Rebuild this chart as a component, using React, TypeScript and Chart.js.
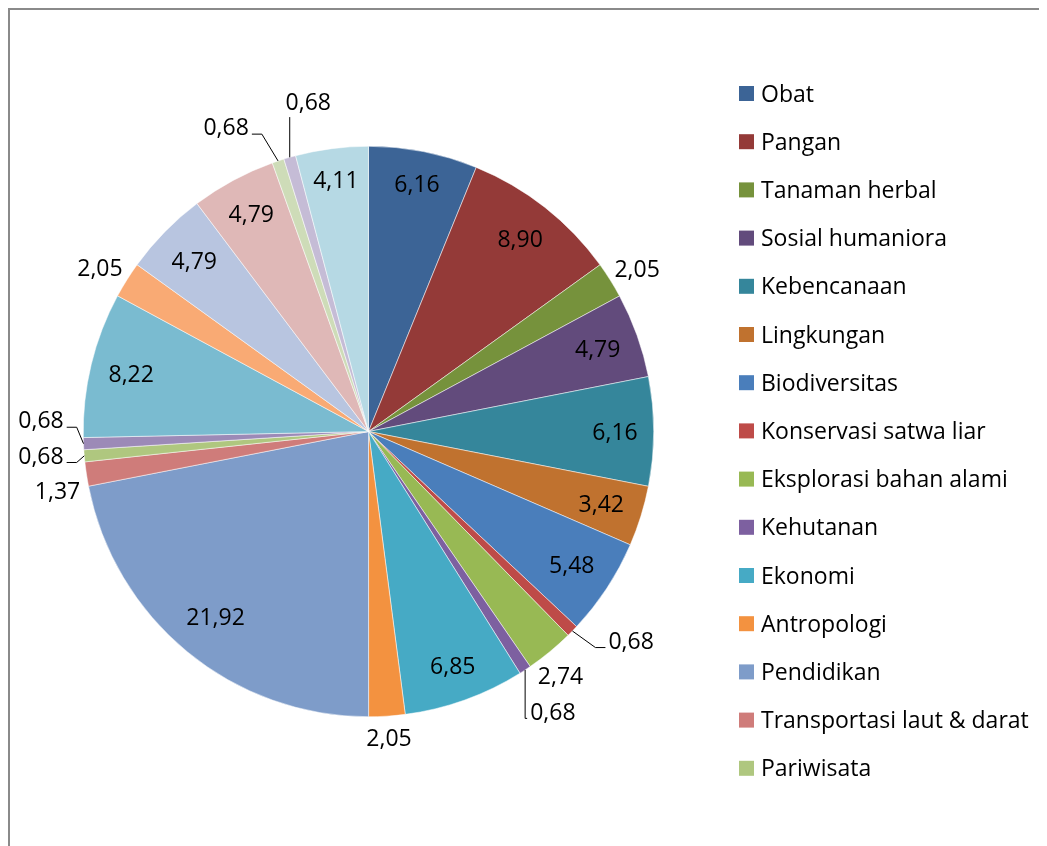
import React, { useEffect, useRef } from 'react';
import { Chart, registerables } from 'chart.js';

Chart.register(...registerables);

// ---- data ----
const categories = [
  'Obat',
  'Pangan',
  'Tanaman herbal',
  'Sosial humaniora',
  'Kebencanaan',
  'Lingkungan',
  'Biodiversitas',
  'Konservasi satwa liar',
  'Eksplorasi bahan alami',
  'Kehutanan',
  'Ekonomi',
  'Antropologi',
  'Pendidikan',
  'Transportasi laut & darat',
  'Pariwisata',
];

const values = [
  6.16, 8.9, 2.05, 4.79, 6.16, 3.42, 5.48, 0.68, 2.74, 0.68, 6.85, 2.05, 21.92, 1.37, 0.68,
  0.68, 8.22, 2.05, 4.79, 4.79, 0.68, 0.68, 4.11,
];

const colors = [
  '#3C6496', '#943A38', '#76923C', '#624B7C', '#35869B', '#C0722F',
  '#4A7EBB', '#BE4B48', '#98B954', '#7D60A0', '#46AAC5', '#F39240',
  '#7E9CC9', '#CF7C7A', '#AFC77F', '#9C8AB7', '#7ABBD0', '#F9AA74',
  '#B8C5E0', '#DFB8B7', '#CEDCB8', '#C5BCD6', '#B6D9E4',
];

// ---- styling ----
const FONT = '"Open Sans", Lato, sans-serif';
const LABEL_SIZE = 23;
const LEGEND_SIZE = 23;
const CANVAS_W = 1037;
const CANVAS_H = 836;

const fmt = (v: number) => v.toFixed(2).replace('.', ',');

const labelPlugin = {
  id: 'excelPieLabels',
  afterDatasetsDraw(chart: any) {
    const ctx: CanvasRenderingContext2D = chart.ctx;
    const meta = chart.getDatasetMeta(0);
    const arcs = meta.data as any[];
    ctx.save();
    ctx.font = `${LABEL_SIZE}px ${FONT}`;
    ctx.fillStyle = '#000';
    ctx.textAlign = 'center';
    ctx.textBaseline = 'alphabetic';
    const H = 26;
    const BASE = 8.2;
    const INSIDE_MARGIN = 16;
    const outside: any[] = [];
    arcs.forEach((arc, i) => {
      const p = arc.getProps(['x', 'y', 'startAngle', 'endAngle', 'outerRadius'], true);
      const text = fmt(values[i]);
      const w = ctx.measureText(text).width;
      const mid = (p.startAngle + p.endAngle) / 2;
      const ux = Math.cos(mid);
      const uy = Math.sin(mid);
      if (values[i] >= 3) {
        const proj = (w / 2) * Math.abs(ux) + (H / 2) * Math.abs(uy);
        const d = p.outerRadius - INSIDE_MARGIN - proj;
        ctx.fillText(text, p.x + d * ux, p.y + d * uy + BASE);
      } else {
        const span = p.endAngle - p.startAngle;
        const tiny = span < (3 * Math.PI) / 180;
        const gap = tiny ? 19 + 18 * Math.abs(uy) : 9;
        outside.push({
          text, w, h: H, a0: mid, a: mid, s: p.startAngle, e: p.endAngle,
          cx: p.x, cy: p.y, r: p.outerRadius, gap, tiny, wt: tiny ? 1 : 0.5,
        });
      }
    });

    const pos = (L: any) => {
      const c = Math.cos(L.a);
      const s = Math.sin(L.a);
      return {
        x: L.cx + (L.r + L.gap) * c + (L.w / 2) * c,
        y: L.cy + (L.r + L.gap) * s + (L.h / 2) * s,
      };
    };
    const PADX = 36;
    const PADY = 9;
    for (let iter = 0; iter < 6000; iter++) {
      let moved = false;
      for (let k = 0; k < outside.length; k++) {
        for (let m = k + 1; m < outside.length; m++) {
          const A = outside[k];
          const B = outside[m];
          const pa = pos(A);
          const pb = pos(B);
          const ox = (A.w + B.w) / 2 + PADX - Math.abs(pa.x - pb.x);
          const oy = (A.h + B.h) / 2 + PADY - Math.abs(pa.y - pb.y);
          if (ox > 0 && oy > 0) {
            const st = 0.002;
            const dir = A.a0 <= B.a0 ? 1 : -1;
            A.a -= dir * st * A.wt;
            B.a += dir * st * B.wt;
            moved = true;
          }
        }
      }
      if (!moved) break;
    }

    ctx.strokeStyle = '#000';
    ctx.lineWidth = 1;
    outside.forEach((L) => {
      const p = pos(L);
      ctx.fillText(L.text, p.x, p.y + BASE);
      const span = L.e - L.s;
      const displaced = Math.abs(L.a - L.a0) > span / 2 + (1 * Math.PI) / 180;
      if (L.tiny || displaced) {
        const sx = L.cx + L.r * Math.cos(L.a0);
        const sy = L.cy + L.r * Math.sin(L.a0);
        const left = p.x - L.w / 2;
        const right = p.x + L.w / 2;
        ctx.beginPath();
        ctx.moveTo(sx, sy);
        if (sx < left) {
          const ax = left - 3;
          const ay = p.y + 7;
          const ex = Math.max(sx, ax - 10);
          ctx.lineTo(ex, ay);
          ctx.lineTo(ax, ay);
        } else if (sx > right) {
          const ax = right + 3;
          const ay = p.y + 7;
          const ex = Math.min(sx, ax + 10);
          ctx.lineTo(ex, ay);
          ctx.lineTo(ax, ay);
        } else {
          const ay = sy > p.y ? p.y + L.h / 2 + 2 : p.y - L.h / 2 - 2;
          ctx.lineTo(sx, ay);
        }
        ctx.stroke();
      }
    });
    ctx.restore();
  },
  afterDraw(chart: any) {
    const ctx: CanvasRenderingContext2D = chart.ctx;
    ctx.save();
    ctx.font = `${LEGEND_SIZE}px ${FONT}`;
    ctx.textAlign = 'left';
    ctx.textBaseline = 'alphabetic';
    const boxX = 729;
    const top = 83.5;
    const step = 48.2;
    const box = 15;
    categories.forEach((name, i) => {
      const cy = top + i * step;
      ctx.fillStyle = colors[i];
      ctx.fillRect(boxX, cy - box / 2, box, box);
      ctx.fillStyle = '#000';
      ctx.fillText(name, boxX + box + 7, cy + 8);
    });
    ctx.restore();
  },
};

export default function App() {
  const ref = useRef<HTMLCanvasElement | null>(null);
  useEffect(() => {
    if (!ref.current) return;
    const chart = new Chart(ref.current, {
      type: 'pie',
      data: {
        labels: categories,
        datasets: [
          {
            data: values,
            backgroundColor: colors,
            borderColor: '#ffffff',
            borderWidth: 0.5,
            hoverOffset: 0,
          },
        ],
      },
      options: {
        responsive: false,
        animation: false,
        layout: { padding: { left: 73, top: 136, right: 393, bottom: 129 } },
        plugins: {
          legend: { display: false },
          tooltip: { enabled: false },
        },
      },
      plugins: [labelPlugin],
    });
    return () => chart.destroy();
  }, []);

  return (
    <div
      style={{
        width: 1039,
        height: 838,
        boxSizing: 'border-box',
        borderLeft: '2px solid #8a8a8a',
        borderTop: '2px solid #8a8a8a',
        background: '#fff',
        overflow: 'hidden',
      }}
    >
      <canvas ref={ref} width={CANVAS_W} height={CANVAS_H} style={{ display: 'block' }} />
    </div>
  );
}
